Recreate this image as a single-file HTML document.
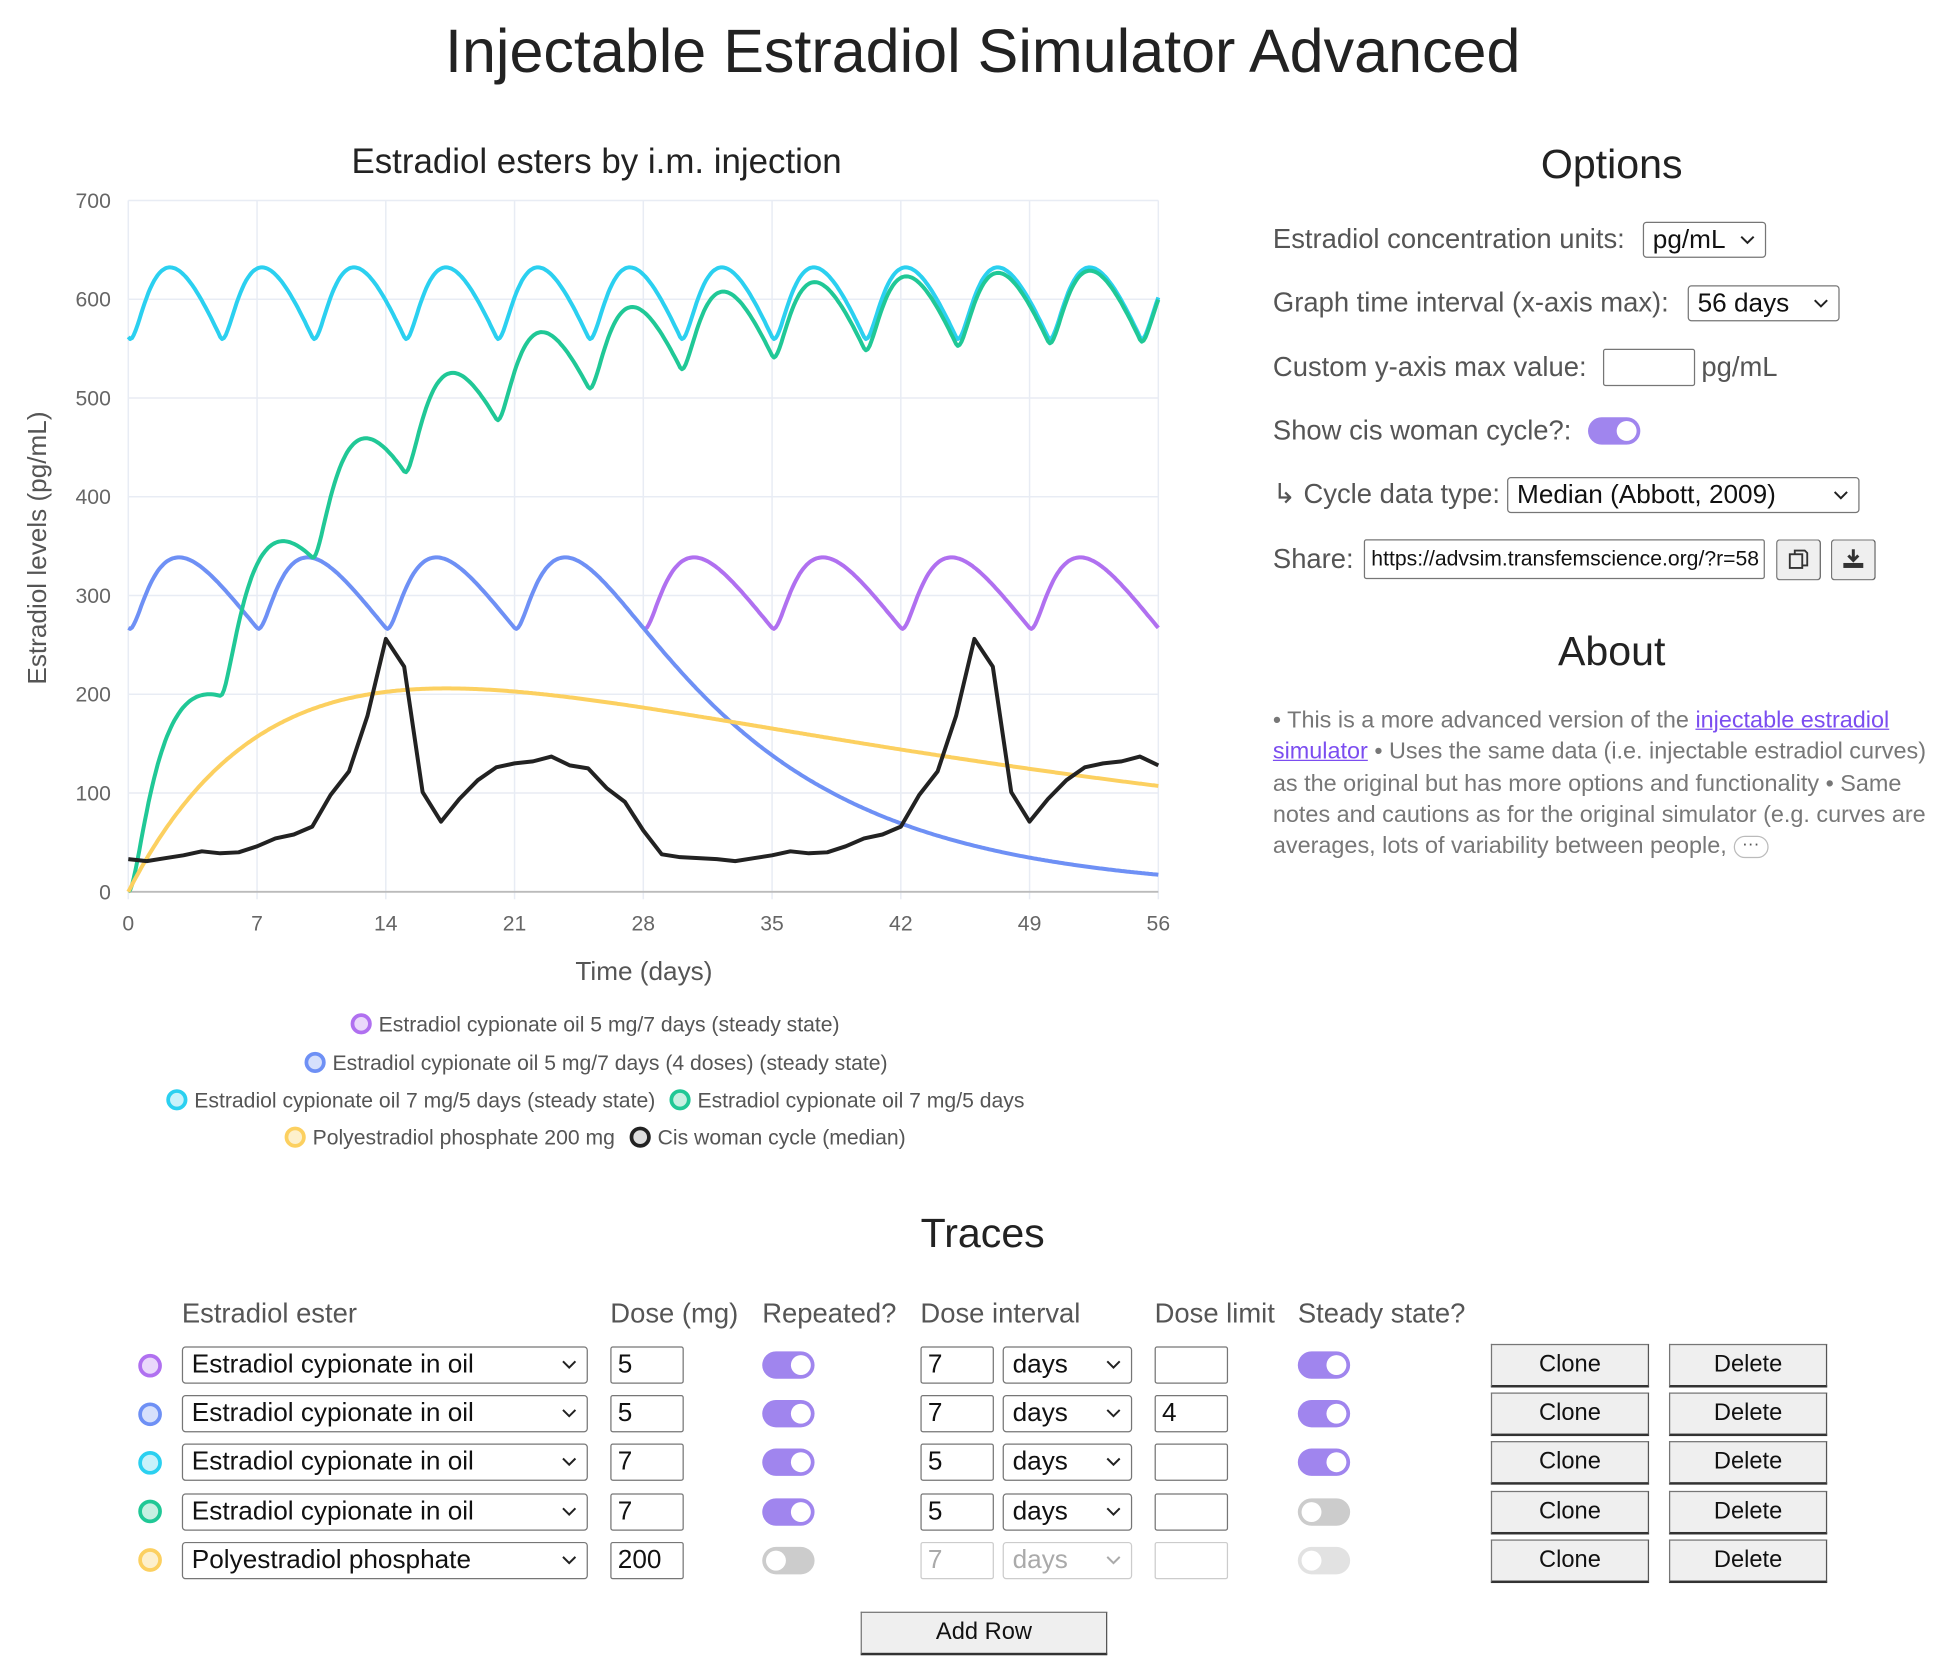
<!DOCTYPE html>
<html><head><meta charset="utf-8">
<style>
html,body{margin:0;padding:0;background:#fff;}
body{width:1943px;height:1679px;overflow:hidden;font-family:"Liberation Sans",Arial,sans-serif;}
#w{position:absolute;left:0;top:0;width:1560px;height:1348px;transform:scale(1.24551);transform-origin:0 0;}
.a{position:absolute;white-space:nowrap;}
.lbl{font-size:22px;color:#555;line-height:24px;}
.sel{position:absolute;border:1px solid #767676;border-radius:3px;background:#fff;box-sizing:border-box;font-size:21px;color:#111;padding-left:7px;}
.sel svg{position:absolute;right:8px;top:50%;margin-top:-4px;}
.inp{position:absolute;border:1px solid #767676;border-radius:2px;background:#fff;box-sizing:border-box;font-size:21px;color:#111;padding-left:5px;}
.tg{position:absolute;width:42px;height:22px;border-radius:11px;background:#a085ee;}
.tg::after{content:"";position:absolute;top:3px;right:3px;width:16px;height:16px;border-radius:50%;background:#fff;}
.tg.off{background:#ccc;}
.tg.off::after{left:3px;right:auto;}
.tg.dis{background:#e2e2e2;}
.btn{position:absolute;border:1px solid #767676;border-bottom:2px solid #333;border-right:1px solid #555;background:#efefef;box-sizing:border-box;font-size:19px;color:#111;text-align:center;}
.dot{position:absolute;width:13px;height:13px;border-radius:50%;border:3px solid;}
</style></head><body>
<div id="w">
<div class="a" style="left:0;width:1578px;text-align:center;top:14px;font-size:49px;color:#222;">Injectable Estradiol Simulator Advanced</div>

<svg id="ch" class="a" style="left:0;top:0" width="960" height="950" xmlns="http://www.w3.org/2000/svg">
<text x="479" y="139" text-anchor="middle" font-size="28" fill="#222" font-family="Liberation Sans,sans-serif">Estradiol esters by i.m. injection</text>
<g id="grid"></g>
<text transform="translate(37,440) rotate(-90)" text-anchor="middle" font-size="21" fill="#555" font-family="Liberation Sans,sans-serif">Estradiol levels (pg/mL)</text>
<text x="517" y="787" text-anchor="middle" font-size="21" fill="#555" font-family="Liberation Sans,sans-serif">Time (days)</text>
<g id="ser" fill="none" stroke-width="3.2" stroke-linejoin="round"></g>
<g font-size="17" fill="#555" font-family="Liberation Sans,sans-serif">
<circle cx="290" cy="822" r="7" fill="#ead8fb" stroke="#b070f0" stroke-width="3"/><text x="304" y="828">Estradiol cypionate oil 5 mg/7 days (steady state)</text>
<circle cx="253" cy="853" r="7" fill="#d6e0fc" stroke="#6e90f5" stroke-width="3"/><text x="267" y="859">Estradiol cypionate oil 5 mg/7 days (4 doses) (steady state)</text>
<circle cx="142" cy="883" r="7" fill="#c8f2fb" stroke="#2bd0f0" stroke-width="3"/><text x="156" y="889">Estradiol cypionate oil 7 mg/5 days (steady state)</text>
<circle cx="546" cy="883" r="7" fill="#c6f0e2" stroke="#20c896" stroke-width="3"/><text x="560" y="889">Estradiol cypionate oil 7 mg/5 days</text>
<circle cx="237" cy="913" r="7" fill="#fdf0cc" stroke="#fcd060" stroke-width="3"/><text x="251" y="919">Polyestradiol phosphate 200 mg</text>
<circle cx="514" cy="913" r="7" fill="#ddd" stroke="#222" stroke-width="3"/><text x="528" y="919">Cis woman cycle (median)</text>
</g>
</svg>

<!-- Options -->
<div class="a" style="left:1094px;width:400px;text-align:center;top:113px;font-size:33px;color:#222;">Options</div>
<div class="a lbl" style="left:1022px;top:180px;">Estradiol concentration units:</div>
<div class="sel" style="left:1319px;top:178px;width:99px;height:29px;line-height:27px;">pg/mL<svg width="12" height="8"><path d="M1 1l5 5 5-5" stroke="#222" stroke-width="1.6" fill="none"/></svg></div>
<div class="a lbl" style="left:1022px;top:231px;">Graph time interval (x-axis max):</div>
<div class="sel" style="left:1355px;top:229px;width:122px;height:29px;line-height:27px;">56 days<svg width="12" height="8"><path d="M1 1l5 5 5-5" stroke="#222" stroke-width="1.6" fill="none"/></svg></div>
<div class="a lbl" style="left:1022px;top:283px;">Custom y-axis max value:</div>
<div class="inp" style="left:1287px;top:280px;width:74px;height:30px;"></div>
<div class="a lbl" style="left:1366px;top:283px;">pg/mL</div>
<div class="a lbl" style="left:1022px;top:334px;">Show cis woman cycle?:</div>
<div class="tg" style="left:1275px;top:335px;"></div>
<div class="a lbl" style="left:1022px;top:385px;">↳ Cycle data type:</div>
<div class="sel" style="left:1210px;top:383px;width:283px;height:29px;line-height:27px;">Median (Abbott, 2009)<svg width="12" height="8"><path d="M1 1l5 5 5-5" stroke="#222" stroke-width="1.6" fill="none"/></svg></div>
<div class="a lbl" style="left:1022px;top:437px;">Share:</div>
<div class="inp" style="left:1095px;top:433px;width:322px;height:32px;line-height:30px;font-size:17px;overflow:hidden;">https://advsim.transfemscience.org/?r=58</div>
<div class="btn" style="left:1426px;top:433px;width:36px;height:33px;border-bottom:1px solid #767676;border-radius:3px;"><svg width="20" height="20" style="margin-top:5px"><rect x="3" y="6" width="10" height="11" fill="none" stroke="#333" stroke-width="1.5"/><path d="M7 6V3h8l2 2v10h-4" fill="none" stroke="#333" stroke-width="1.5"/></svg></div>
<div class="btn" style="left:1470px;top:433px;width:36px;height:33px;border-bottom:1px solid #767676;border-radius:3px;"><svg width="20" height="20" style="margin-top:5px"><path d="M10 2v9M6 7l4 4 4-4" stroke="#333" stroke-width="2.4" fill="none"/><rect x="2" y="13" width="16" height="4" fill="#333"/></svg></div>

<div class="a" style="left:1094px;width:400px;text-align:center;top:504px;font-size:33px;color:#222;">About</div>
<div class="a" style="left:1022px;top:565px;width:532px;white-space:normal;font-size:18.8px;line-height:25.3px;color:#777;">• This is a more advanced version of the <span style="color:#7b4df0;text-decoration:underline">injectable estradiol simulator</span> • Uses the same data (i.e. injectable estradiol curves) as the original but has more options and functionality • Same notes and cautions as for the original simulator (e.g. curves are averages, lots of variability between people, <span style="display:inline-block;border:1px solid #bbb;border-radius:10px;width:26px;height:16px;line-height:10px;text-align:center;font-size:14px;color:#555;vertical-align:middle;">···</span></div>

<!-- Traces -->
<div class="a" style="left:589px;width:400px;text-align:center;top:971px;font-size:33px;color:#222;">Traces</div>
<div class="a lbl" style="left:146px;top:1043px;font-size:22px;">Estradiol ester</div>
<div class="a lbl" style="left:490px;top:1043px;font-size:22px;">Dose (mg)</div>
<div class="a lbl" style="left:612px;top:1043px;font-size:22px;">Repeated?</div>
<div class="a lbl" style="left:739px;top:1043px;font-size:22px;">Dose interval</div>
<div class="a lbl" style="left:927px;top:1043px;font-size:22px;">Dose limit</div>
<div class="a lbl" style="left:1042px;top:1043px;font-size:22px;">Steady state?</div>
<div id="rows"></div>
<div class="btn" style="left:691px;top:1294px;width:198px;height:35px;line-height:32px;">Add Row</div>
</div>
<script>
function X(t){return 103+t*14.768;}
function Y(v){return 716-v*0.7929;}
var g=document.getElementById('grid'),s='';
for(var i=0;i<=8;i++){var x=X(i*7);s+='<line x1="'+x+'" y1="161" x2="'+x+'" y2="722" stroke="#e8ecf4" stroke-width="1.2"/>';s+='<text x="'+x+'" y="747" text-anchor="middle" font-size="17" fill="#666" font-family="Liberation Sans,sans-serif">'+(i*7)+'</text>';}
for(var j=0;j<=7;j++){var y=Y(j*100);if(j>0)s+='<line x1="103" y1="'+y+'" x2="930" y2="'+y+'" stroke="#e8ecf4" stroke-width="1.2"/>';s+='<text x="89" y="'+(y+6)+'" text-anchor="end" font-size="17" fill="#666" font-family="Liberation Sans,sans-serif">'+(j*100)+'</text>';}
s+='<line x1="103" y1="716" x2="930" y2="716" stroke="#bbb" stroke-width="1.5"/>';
g.innerHTML=s;
var k1=3.0,ka=0.5,ke=0.099,DT=0.01,N=40000,U=new Float64Array(N);
(function(){var a=1,b=0,c=0;for(var i=0;i<N;i++){U[i]=c;var da=-k1*a,db=k1*a-ka*b,dc=ka*b-ke*c;a+=da*DT;b+=db*DT;c+=dc*DT;}})();
function u(t){if(t<=0)return 0;var i=t/DT,k=Math.floor(i);if(k>=N-1)return 0;return U[k]+(U[k+1]-U[k])*(i-k);}
function ssum(t,D,tau,nmax){var c=0;for(var n=-50;n<=nmax;n++){c+=u(t-n*tau);}return c*D;}
function path(fn,t0,t1,col){var d='';for(var t=t0;t<=t1+1e-9;t+=0.1){d+=(d?'L':'M')+X(t).toFixed(1)+' '+Y(fn(t)).toFixed(1);}return '<path d="'+d+'" stroke="'+col+'" stroke-width="3.2"/>';}
var D5=215,D7=299,ser='';
ser+=path(function(t){return ssum(t,D5,7,20);},28,56,'#b070f0');
ser+=path(function(t){return ssum(t,D5,7,3);},0,56,'#6e90f5');
ser+=path(function(t){return ssum(t,D7,5,20);},0,56,'#2bd0f0');
ser+=path(function(t){var c=0;for(var n=0;n*5<=t;n++)c+=u(t-5*n);return c*D7;},0,56,'#20c896');
ser+=path(function(t){return 369*(Math.exp(-0.022*t)-Math.exp(-0.12*t));},0,56,'#fcd060');
var cyc=[33,31,34,37,41,39,40,46,54,58,66,98,122,178,256,228,101,71,94,113,126,130,132,137,128,125,105,91,62,38,35,34];
var d='';for(var t=0;t<=56;t++){d+=(d?'L':'M')+X(t).toFixed(1)+' '+Y(cyc[t%32]).toFixed(1);}
ser+='<path d="'+d+'" stroke="#222" stroke-width="3.2"/>';
document.getElementById('ser').innerHTML=ser;
var rows=[["#b070f0","#ead8fb","Estradiol cypionate in oil","5",1,"7","",1],["#6e90f5","#d6e0fc","Estradiol cypionate in oil","5",1,"7","4",1],["#2bd0f0","#c8f2fb","Estradiol cypionate in oil","7",1,"5","",1],["#20c896","#c6f0e2","Estradiol cypionate in oil","7",1,"5","",0],["#fcd060","#fdf0cc","Polyestradiol phosphate","200",0,"7","",-1]];
var h='',ch='<svg width="12" height="8"><path d="M1 1l5 5 5-5" stroke="#222" stroke-width="1.6" fill="none"/></svg>';
rows.forEach(function(r,i){var c=1096+i*39.2,top=c-15;var dis=!r[4];
h+='<div class="dot" style="left:111px;top:'+(c-9.5)+'px;border-color:'+r[0]+';background:'+r[1]+'"></div>';
h+='<div class="sel" style="left:146px;top:'+top+'px;width:326px;height:30px;line-height:28px;">'+r[2]+ch+'</div>';
h+='<div class="inp" style="left:490px;top:'+top+'px;width:59px;height:30px;line-height:28px;">'+r[3]+'</div>';
h+='<div class="tg'+(r[4]?'':' off')+'" style="left:612px;top:'+(c-11)+'px;"></div>';
var dc=dis?'color:#aaa;border-color:#ccc;':'';
h+='<div class="inp" style="left:739px;top:'+top+'px;width:59px;height:30px;line-height:28px;'+dc+'">'+r[5]+'</div>';
h+='<div class="sel" style="left:805px;top:'+top+'px;width:104px;height:30px;line-height:28px;'+dc+'">days'+(dis?ch.replace('#222','#aaa'):ch)+'</div>';
h+='<div class="inp" style="left:927px;top:'+top+'px;width:59px;height:30px;line-height:28px;'+(dis?'border-color:#ccc;':'')+'">'+r[6]+'</div>';
h+='<div class="tg'+(r[7]==1?'':(r[7]==0?' off':' off dis'))+'" style="left:1042px;top:'+(c-11)+'px;"></div>';
h+='<div class="btn" style="left:1197px;top:'+(c-17)+'px;width:127px;height:35px;line-height:32px;">Clone</div>';
h+='<div class="btn" style="left:1340px;top:'+(c-17)+'px;width:127px;height:35px;line-height:32px;">Delete</div>';
});
document.getElementById('rows').innerHTML=h;
</script>
</body></html>
